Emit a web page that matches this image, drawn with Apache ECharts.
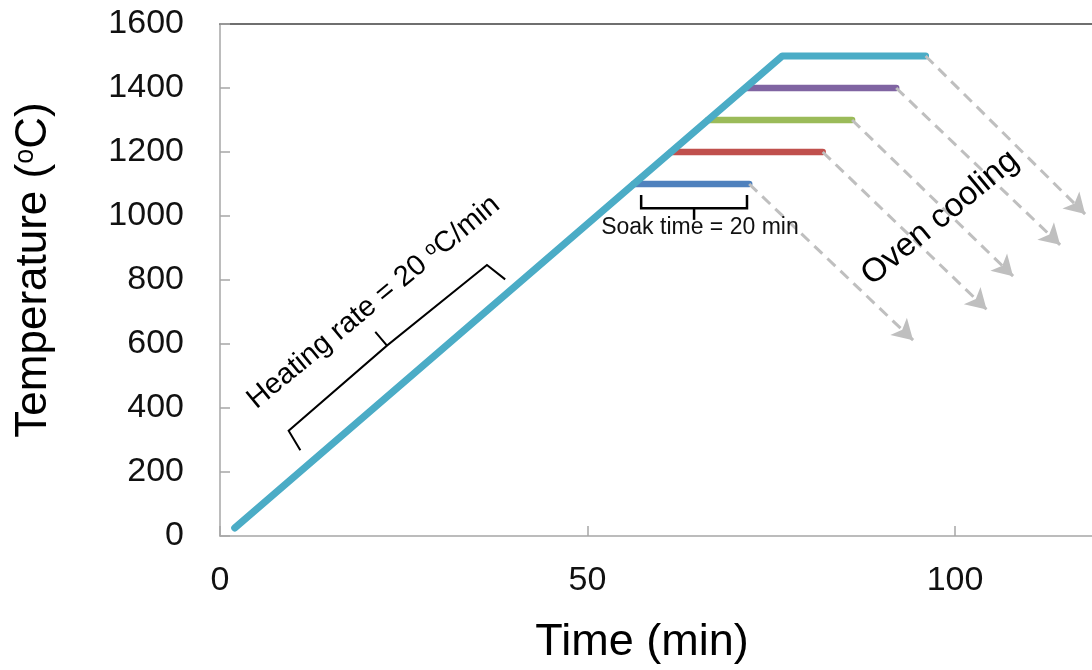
<!DOCTYPE html>
<html>
<head>
<meta charset="utf-8">
<script src="https://cdn.jsdelivr.net/npm/echarts@6/dist/echarts.min.js"></script>
<style>
  html, body { margin: 0; padding: 0; background: #fff; }
  #main { width: 1092px; height: 670px; }
</style>
</head>
<body>
<div id="main"></div>
<script>
// heating ramp + top soak (1500 C)
var heatTime = [2, 76.5, 96];
var heatTemp = [25, 1500, 1500];

// lower soak plateaus
var soakTemp = [1100, 1200, 1300, 1400];
var soakStart = [56.3, 61.4, 66.4, 71.5];
var soakEnd = [72, 82, 86, 92];
var soakColor = ['#4f81bd', '#c0504d', '#9bbb59', '#8064a2'];

// oven cooling arrows (start = end of each soak)
var coolStartTime = [72, 82, 86, 92, 96];
var coolStartTemp = [1100, 1200, 1300, 1400, 1500];
var coolEndTime = [94.3, 104.3, 107.9, 114.3, 117.7];
var coolEndTemp = [612, 708, 812, 910, 1006];

var xTicks = [0, 50, 100];

var FONT = "'Liberation Sans', Arial, sans-serif";

var myChart = echarts.init(document.getElementById('main'));

var series = [];
soakTemp.forEach(function (t, i) {
    series.push({
        type: 'line',
        data: [[soakStart[i], t], [soakEnd[i], t]],
        symbol: 'none',
        lineStyle: { color: soakColor[i], width: 6.5, cap: 'round' },
        z: 3
    });
});
series.push({
    type: 'line',
    data: heatTime.map(function (t, i) { return [t, heatTemp[i]]; }),
    symbol: 'none',
    lineStyle: { color: '#4bacc6', width: 7, cap: 'round', join: 'round' },
    z: 4
});
series.push({
    type: 'line',
    data: [],
    markLine: {
        silent: true,
        symbol: ['none', 'arrow'],
        symbolSize: [18, 20],
        label: { show: false },
        lineStyle: { color: '#bfbfbf', width: 3, type: [11, 7] },
        emphasis: { disabled: true },
        data: coolStartTime.map(function (t, i) {
            return [{ coord: [t, coolStartTemp[i]] }, { coord: [coolEndTime[i], coolEndTemp[i]] }];
        })
    },
    z: 2
});

var option = {
    backgroundColor: '#fff',
    animation: false,
    grid: { left: 220, top: 24, right: -10, bottom: 134, outerBoundsMode: 'none' },
    xAxis: [{
        type: 'value',
        min: 0,
        max: 120,
        interval: 50,
        name: 'Time (min)',
        nameLocation: 'middle',
        nameGap: 84,
        nameTextStyle: { fontSize: 45, fontFamily: FONT, color: '#000', padding: [0, 38, 0, 0] },
        axisLine: { lineStyle: { color: '#a6a6a6', width: 1.5 } },
        axisTick: { inside: true, length: 10, lineStyle: { color: '#a6a6a6', width: 1.5 } },
        axisLabel: {
            fontSize: 34, fontFamily: FONT, color: '#111', margin: 28,
            formatter: function (v) { return xTicks.indexOf(v) >= 0 ? String(v) : ''; }
        },
        splitLine: { show: false }
    }, {
        type: 'value',
        position: 'top',
        min: 0,
        max: 120,
        axisLine: { show: true, lineStyle: { color: '#404040', width: 1.5 } },
        axisTick: { show: false },
        axisLabel: { show: false },
        splitLine: { show: false }
    }],
    yAxis: {
        type: 'value',
        min: 0,
        max: 1600,
        interval: 200,
        name: '{a|Temperature (}{s|o}{a|C)}',
        nameLocation: 'middle',
        nameGap: 164,
        nameTextStyle: {
            fontSize: 44, fontFamily: FONT, color: '#000', padding: [0, 0, 0, 20],
            rich: {
                a: { fontSize: 44, fontFamily: FONT, color: '#000' },
                s: { fontSize: 27, fontFamily: FONT, color: '#000', verticalAlign: 'top' }
            }
        },
        axisLine: { show: true, lineStyle: { color: '#a6a6a6', width: 1.5 } },
        axisTick: { show: true, inside: true, length: 10, lineStyle: { color: '#a6a6a6', width: 1.5 } },
        axisLabel: {
            fontSize: 34, fontFamily: FONT, color: '#111', margin: 36,
            formatter: function (v) { return String(v); }
        },
        splitLine: { show: false }
    },
    series: series
};

myChart.setOption(option);

// annotations, anchored in data coordinates
function px(p) { return myChart.convertToPixel({ seriesIndex: 4 }, p); }

var heatBrace = [[10.93, 268], [9.34, 329], [22.72, 595], [21.13, 638], [22.72, 595], [36.32, 847], [38.8, 802]];
var soakBrace = [[57.3, 1066], [57.3, 1024], [71.7, 1024], [71.7, 1066]];
var soakTick = [[64.5, 1024], [64.5, 988]];
var rot = 39.5 * Math.PI / 180;

var hc = px([20.9, 730]);
var oc = px([98.0, 994]);
var sc = px([65.3, 963]);

myChart.setOption({
    graphic: [
        { type: 'polyline', shape: { points: heatBrace.map(px) }, style: { stroke: '#000', lineWidth: 2, fill: null }, z: 10 },
        { type: 'polyline', shape: { points: soakBrace.map(px) }, style: { stroke: '#000', lineWidth: 2.5, fill: null }, z: 10 },
        { type: 'polyline', shape: { points: soakTick.map(px) }, style: { stroke: '#000', lineWidth: 2.5, fill: null }, z: 10 },
        {
            type: 'text', x: hc[0], y: hc[1], rotation: rot, z: 10,
            style: {
                text: '{a|Heating rate = 20 }{s|o}{a|C/min}',
                align: 'center', verticalAlign: 'middle',
                fill: '#000', font: '29px ' + FONT,
                rich: {
                    a: { fontSize: 29, fontFamily: FONT, fill: '#000' },
                    s: { fontSize: 19, fontFamily: FONT, fill: '#000', verticalAlign: 'top' }
                }
            }
        },
        {
            type: 'text', x: oc[0], y: oc[1], rotation: rot, z: 10,
            style: { text: 'Oven cooling', align: 'center', verticalAlign: 'middle', fill: '#000', font: '33px ' + FONT }
        },
        {
            type: 'text', x: sc[0], y: sc[1], z: 10,
            style: { text: 'Soak time = 20 min', align: 'center', verticalAlign: 'middle', fill: '#111', font: '23px ' + FONT }
        }
    ]
});
</script>
</body>
</html>
